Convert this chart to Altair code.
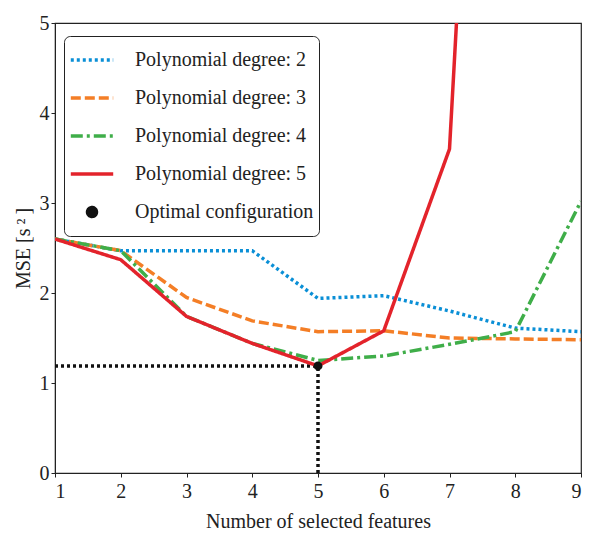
import altair as alt
import pandas as pd

features = [1, 2, 3, 4, 5, 6, 7, 8, 9]
deg2 = [2.60, 2.47, 2.47, 2.47, 1.94, 1.97, 1.80, 1.61, 1.57]
deg3 = [2.60, 2.47, 1.95, 1.69, 1.57, 1.58, 1.50, 1.49, 1.48]
deg4 = [2.60, 2.47, 1.74, 1.44, 1.25, 1.30, 1.43, 1.57, 3.02]
deg5 = [2.60, 2.37, 1.74, 1.44, 1.19, 1.58, 3.60, 16.8, 25.0]

series_names = ["Polynomial degree: 2", "Polynomial degree: 3",
                "Polynomial degree: 4", "Polynomial degree: 5",
                "Optimal configuration"]
colors = ["#0a8fd6", "#f47e26", "#3fae49", "#e3232b", "#111111"]
dashes = [[3, 3], [10, 4], [12, 4, 3, 4], [1, 0], [1, 0]]

opt_x = [5]
opt_y = [1.19]
x_min = 1

rows = []
for name, vals in zip(series_names[:4], [deg2, deg3, deg4, deg5]):
    for f, v in zip(features, vals):
        rows.append({"feature": f, "mse": v, "series": name})
df = pd.DataFrame(rows)

df_opt = pd.DataFrame({"feature": opt_x, "mse": opt_y,
                       "series": ["Optimal configuration"],
                       "x0": [x_min], "y0": [0]})

FONT = "Liberation Serif"

xs = alt.Scale(domain=[1, 9], nice=False, zero=False)
ys = alt.Scale(domain=[0, 5], nice=False, zero=False)

legend = alt.Legend(
    title=None, orient="none", legendX=9, legendY=13,
    strokeColor="#222", cornerRadius=6, fillColor="white", padding=5,
    labelFont=FONT, labelFontSize=20, labelColor="#222", labelLimit=400,
    labelOffset=20, symbolStrokeWidth=3.5, rowPadding=0, clipHeight=38,
)

color_enc = alt.Color("series:N", scale=alt.Scale(domain=series_names, range=colors), legend=legend)

xaxis = alt.Axis(values=features, title="Number of selected features", format="d",
                 labelPadding=4, titlePadding=10)
yaxis = alt.Axis(values=[0, 1, 2, 3, 4, 5], title="MSE [s\u2009²\u2009]", format="d")

lines = alt.Chart(df).mark_line(clip=True, strokeWidth=3.5).encode(
    x=alt.X("feature:Q", scale=xs, axis=xaxis),
    y=alt.Y("mse:Q", scale=ys, axis=yaxis),
    color=color_enc,
    strokeDash=alt.StrokeDash("series:N", scale=alt.Scale(domain=series_names, range=dashes), legend=legend),
)

hrule = alt.Chart(df_opt).mark_rule(strokeWidth=3.5, strokeDash=[3, 3], color="#111").encode(
    x=alt.X("x0:Q", scale=xs, axis=xaxis), x2="feature:Q",
    y=alt.Y("mse:Q", scale=ys, axis=yaxis))
vrule = alt.Chart(df_opt).mark_rule(strokeWidth=3.5, strokeDash=[3, 3], color="#111").encode(
    x=alt.X("feature:Q", scale=xs, axis=xaxis),
    y=alt.Y("y0:Q", scale=ys, axis=yaxis), y2="mse:Q")

point = alt.Chart(df_opt).mark_point(filled=True, opacity=1).encode(
    x=alt.X("feature:Q", scale=xs, axis=xaxis),
    y=alt.Y("mse:Q", scale=ys, axis=yaxis),
    color=color_enc,
    shape=alt.Shape("series:N", scale=alt.Scale(domain=series_names,
                    range=["stroke", "stroke", "stroke", "stroke", "circle"]), legend=legend),
    size=alt.Size("series:N", scale=alt.Scale(type="ordinal", domain=series_names,
                  range=[1800, 1800, 1800, 1800, 80]), legend=legend),
)

chart = alt.layer(hrule, vrule, lines, point).properties(
    width=579, height=528,
    autosize=alt.AutoSizeParams(type="fit", contains="padding"),
).configure_view(stroke="#222", strokeWidth=1.2).configure_axis(
    grid=False, domainColor="#222", tickColor="#222", tickSize=4,
    labelFont=FONT, labelFontSize=20, labelColor="#222", labelPadding=2,
    titleFont=FONT, titleFontSize=20, titleFontWeight="normal", titleColor="#222",
    titlePadding=6,
)

chart.save("out.html", embed_options={"renderer": "svg", "actions": False})
